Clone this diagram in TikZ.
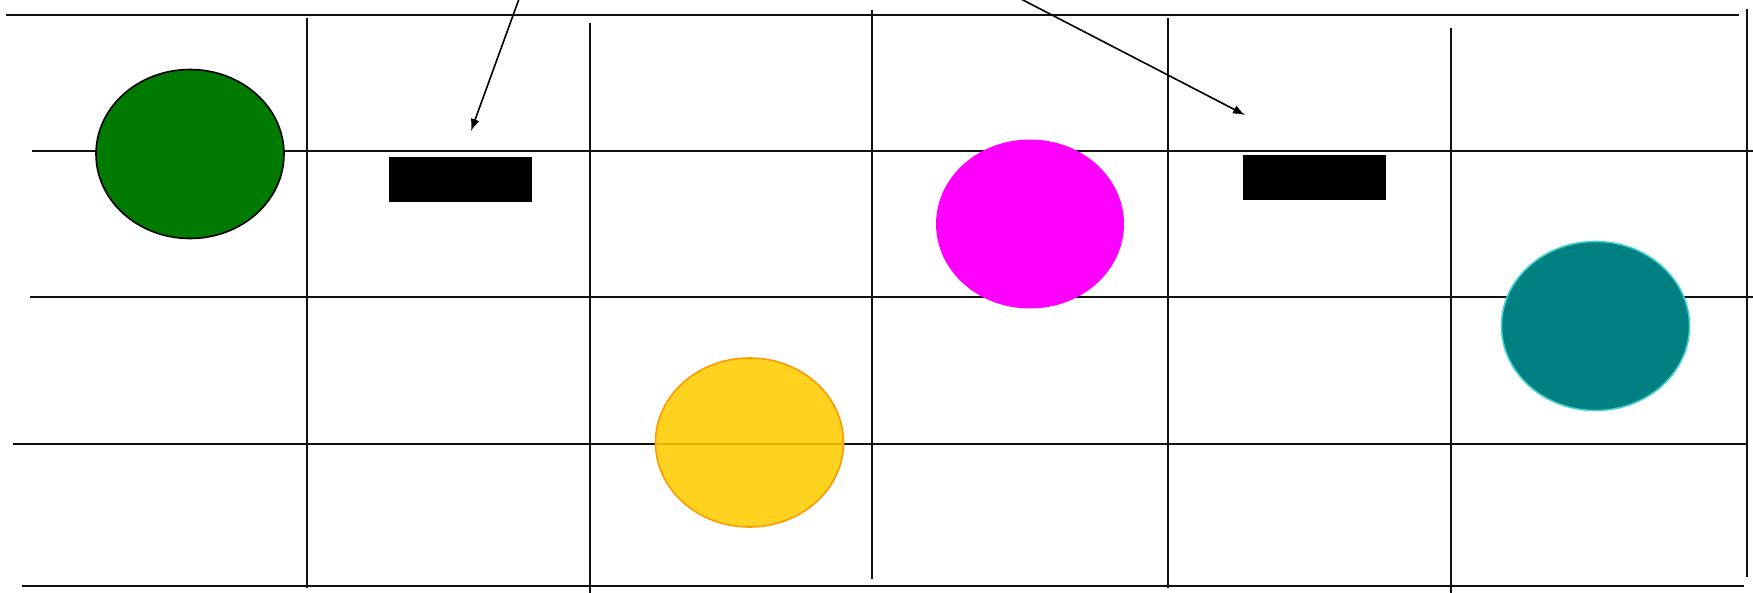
\documentclass[tikz,border=0pt]{standalone}
\usetikzlibrary{shapes.geometric,arrows.meta}
\definecolor{gridblack}{HTML}{111111}
\definecolor{leafgreen}{HTML}{007A00}
\definecolor{sun}{HTML}{FFCC00}
\definecolor{sunedge}{HTML}{FF9900}
\definecolor{teal2}{HTML}{008080}
\definecolor{tealedge}{HTML}{40D0D0}
\definecolor{mag}{HTML}{FF00FF}
\tikzset{
  gridline/.style={draw=gridblack,line width=2pt},
  blob/.style={ellipse,inner sep=0pt,minimum width=188pt,minimum height=169pt,line width=1.6pt},
  bar/.style={rectangle,fill=black,inner sep=0pt,minimum width=143pt,minimum height=45pt},
  pointer/.style={draw=black,line width=1.6pt,-{Latex[length=12pt,width=9pt]}}
}
\begin{document}
\begin{tikzpicture}[x=1pt,y=-1pt]
\useasboundingbox (0,0) rectangle (1753,593);
% horizontal lines
\draw[gridline] (6,15) -- (1739,15);
\draw[gridline] (32,151) -- (1753,151);
\draw[gridline] (30,297) -- (1753,297);
\draw[gridline] (13,444) -- (1746,444);
\draw[gridline] (22,586) -- (1744,586);
% vertical lines
\draw[gridline] (307,18) -- (307,588);
\draw[gridline] (590,23) -- (590,593);
\draw[gridline] (872,10) -- (872,579);
\draw[gridline] (1168,18) -- (1168,588);
\draw[gridline] (1451,28) -- (1451,593);
\draw[gridline] (1747,9) -- (1747,577);
% shapes
\node[blob,fill=leafgreen,draw=black] (green) at (190,154) {};
\node[blob,fill=mag] (magenta) at (1030,224) {};
\node[blob,fill=sun,fill opacity=0.88,draw=sunedge] (yellow) at (749.5,442.5) {};
\node[blob,fill=teal2,draw=tealedge] (teal) at (1595.5,326) {};
\node[bar] (barA) at (460.5,180) {};
\node[bar] (barB) at (1314,177.5) {};
% arrows
\coordinate (srcA) at (519,-1);
\coordinate (tipA) at (471,131);
\coordinate (srcB) at (1021,-1);
\coordinate (tipB) at (1245,115);
\draw[pointer] (srcA) -- (tipA);
\draw[pointer] (srcB) -- (tipB);
\end{tikzpicture}
\end{document}
